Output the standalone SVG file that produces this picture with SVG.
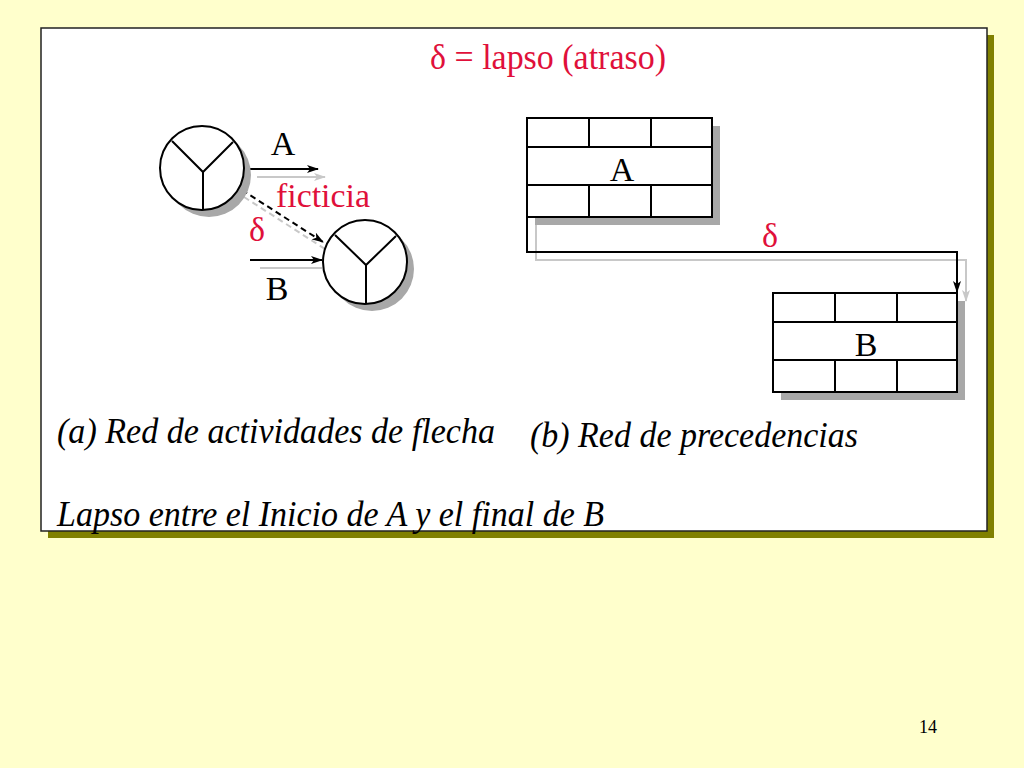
<svg xmlns="http://www.w3.org/2000/svg" width="1024" height="768" viewBox="0 0 1024 768">
<defs>
<style>
.t{font-family:"Liberation Serif","Times New Roman",Times,serif;fill:#000}
.r{fill:#E0103A}
.i{font-style:italic}
.ln{stroke:#000;stroke-width:2;fill:none}
.sh{stroke:#C8C8C8;stroke-width:2;fill:none}
.node{fill:#fff;stroke:#000;stroke-width:2}
.shadow{fill:#A8A8A8}
</style>
<marker id="ah" markerWidth="12" markerHeight="8" refX="11" refY="4" orient="auto" markerUnits="userSpaceOnUse"><path d="M0,0 L12,4 L0,8 L3,4 Z" fill="#000"/></marker>
<marker id="ahg" markerWidth="12" markerHeight="8" refX="11" refY="4" orient="auto" markerUnits="userSpaceOnUse"><path d="M0,0 L12,4 L0,8 L3,4 Z" fill="#C8C8C8"/></marker>
</defs>
<rect x="0" y="0" width="1024" height="768" fill="#FFFFCC"/>
<rect x="48" y="35" width="946" height="503" fill="#808000"/>
<rect x="41" y="28" width="946" height="503" fill="#fff" stroke="#222" stroke-width="1.5"/>

<text class="t r" x="548" y="69" font-size="35" text-anchor="middle" textLength="236" lengthAdjust="spacingAndGlyphs">δ = lapso (atraso)</text>

<g id="connectors">
<line class="sh" x1="257" y1="177" x2="325" y2="177" marker-end="url(#ahg)"/>
<line class="ln" x1="248" y1="169" x2="318" y2="169" marker-end="url(#ah)"/>
<line class="sh" x1="244" y1="197" x2="325" y2="249" stroke-dasharray="6,4"/>
<line class="ln" x1="242" y1="190" x2="323" y2="242" stroke-dasharray="6,4" marker-end="url(#ah)"/>
<line class="sh" x1="260" y1="268" x2="322" y2="268"/>
<line class="ln" x1="250" y1="260" x2="322" y2="260" marker-end="url(#ah)"/>
<polyline class="sh" points="536,217 536,260 966,260 966,301" marker-end="url(#ahg)"/>
<polyline class="ln" points="527,215 527,252 957,252 957,292" marker-end="url(#ah)"/>
</g>

<g id="nodeA-arrow">
<circle class="shadow" cx="209" cy="175" r="42"/>
<circle class="node" cx="202" cy="168" r="42"/>
<polyline class="ln" points="172,141 203,172 233,142"/>
<line class="ln" x1="203" y1="172" x2="203" y2="210"/>
</g>
<g id="nodeB-arrow">
<circle class="shadow" cx="372" cy="269" r="42"/>
<circle class="node" cx="365" cy="262" r="42"/>
<polyline class="ln" points="335,235 366,265 396,236"/>
<line class="ln" x1="366" y1="265" x2="366" y2="304"/>
</g>

<text class="t" x="283" y="155" font-size="34" text-anchor="middle">A</text>
<text class="t r" x="276" y="207" font-size="34" textLength="94" lengthAdjust="spacingAndGlyphs">ficticia</text>
<text class="t r" x="257" y="241" font-size="34" text-anchor="middle">δ</text>
<text class="t" x="277" y="300" font-size="34" text-anchor="middle">B</text>

<g id="boxA">
<rect class="shadow" x="535" y="126" width="185" height="99"/>
<rect class="node" x="527" y="118" width="185" height="99"/>
<line class="ln" x1="527" y1="147" x2="712" y2="147"/>
<line class="ln" x1="527" y1="185" x2="712" y2="185"/>
<line class="ln" x1="589" y1="118" x2="589" y2="147"/>
<line class="ln" x1="651" y1="118" x2="651" y2="147"/>
<line class="ln" x1="589" y1="185" x2="589" y2="217"/>
<line class="ln" x1="651" y1="185" x2="651" y2="217"/>
<text class="t" x="622" y="181" font-size="34" text-anchor="middle">A</text>
</g>
<g id="boxB">
<rect class="shadow" x="781" y="301" width="184" height="99"/>
<rect class="node" x="773" y="293" width="184" height="99"/>
<line class="ln" x1="773" y1="322" x2="957" y2="322"/>
<line class="ln" x1="773" y1="360" x2="957" y2="360"/>
<line class="ln" x1="835" y1="293" x2="835" y2="322"/>
<line class="ln" x1="897" y1="293" x2="897" y2="322"/>
<line class="ln" x1="835" y1="360" x2="835" y2="392"/>
<line class="ln" x1="897" y1="360" x2="897" y2="392"/>
<text class="t" x="866" y="356" font-size="34" text-anchor="middle">B</text>
</g>
<text class="t r" x="770" y="247" font-size="34" text-anchor="middle">δ</text>

<text class="t i" x="57" y="443" font-size="36" textLength="438" lengthAdjust="spacingAndGlyphs">(a) Red de actividades de flecha</text>
<text class="t i" x="530" y="447" font-size="36" textLength="328" lengthAdjust="spacingAndGlyphs">(b) Red de precedencias</text>
<text class="t i" x="57" y="526" font-size="36" textLength="547" lengthAdjust="spacingAndGlyphs">Lapso entre el Inicio de A y el final de B</text>

<text class="t" x="928" y="733" font-size="18" text-anchor="middle">14</text>
</svg>
